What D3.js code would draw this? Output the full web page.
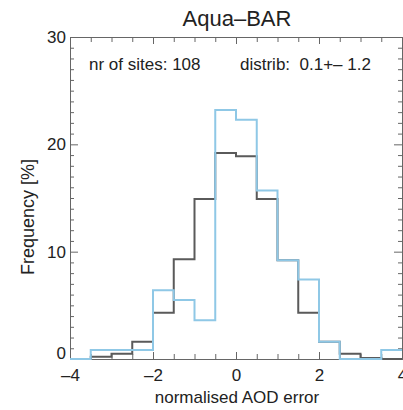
<!DOCTYPE html>
<html>
<head>
<meta charset="utf-8">
<script src="https://cdn.jsdelivr.net/npm/d3@7"></script>
<style>
  body { margin: 0; background: #fff; }
  text { font-family: "Liberation Sans", Arial, Helvetica, sans-serif; fill: #222; }
</style>
</head>
<body>
<div id="my_dataviz"></div>
<script>
// histogram bins (left edges), width 0.5
var binStart = [-4, -3.5, -3, -2.5, -2, -1.5, -1, -0.5, 0, 0.5, 1, 1.5, 2, 2.5, 3, 3.5];
var binEnd = 4;
var grayFreq = [0, 0.2, 0.5, 1.6, 4.3, 9.3, 14.9, 19.2, 18.9, 14.9, 9.2, 4.3, 1.6, 0.5, 0.1, 0];
var blueFreq = [0, 0.85, 0.85, 0.85, 6.4, 5.5, 3.6, 23.2, 22.3, 15.7, 9.2, 7.4, 1.6, 0, 0, 0.85];
var xMajor = [-4, -2, 0, 2, 4];
var xMinor = [-3.5, -3, -2.5, -1.5, -1, -0.5, 0.5, 1, 1.5, 2.5, 3, 3.5];
var yMajor = [0, 10, 20, 30];
var yMinor = [1, 2, 3, 4, 5, 6, 7, 8, 9, 11, 12, 13, 14, 15, 16, 17, 18, 19, 21, 22, 23, 24, 25, 26, 27, 28, 29];

var W = 403, H = 410;
var margin = {top: 37, right: 1, bottom: 51, left: 70},
    width = W - margin.left - margin.right,
    height = H - margin.top - margin.bottom;

var svg = d3.select("#my_dataviz")
  .append("svg")
    .attr("width", W)
    .attr("height", H)
  .append("g")
    .attr("transform", "translate(0,0) translate(" + margin.left + "," + margin.top + ")");

var x = d3.scaleLinear().domain([-4, 4]).range([0, width]);
var y = d3.scaleLinear().domain([0, 30]).range([height, 0]);

var fmt = function(d) { return String(d).replace("-", "\u2013"); };

// axes: labelled bottom/left, tick-only top/right, ticks pointing inward
function styleAxis(g) {
  g.select(".domain").attr("stroke", "#666").attr("stroke-width", 1);
  g.selectAll(".tick line").attr("stroke", "#666").attr("stroke-width", 1);
}

svg.append("g")
  .attr("transform", "translate(0," + height + ")")
  .call(d3.axisBottom(x).tickValues(xMajor).tickSize(-7).tickPadding(10).tickFormat(fmt))
  .call(styleAxis)
  .call(function(g) { g.selectAll("text").style("font-size", "17px").attr("fill", "#222"); });
svg.append("g")
  .attr("transform", "translate(0," + height + ")")
  .call(d3.axisBottom(x).tickValues(xMinor).tickSize(-5).tickFormat(""))
  .call(styleAxis);
svg.append("g")
  .call(d3.axisTop(x).tickValues(xMajor).tickSize(-7).tickFormat(""))
  .call(styleAxis);
svg.append("g")
  .call(d3.axisTop(x).tickValues(xMinor).tickSize(-5).tickFormat(""))
  .call(styleAxis);

svg.append("g")
  .call(d3.axisLeft(y).tickValues(yMajor).tickSize(-8).tickPadding(4))
  .call(styleAxis)
  .call(function(g) {
    g.selectAll("text").style("font-size", "17px").attr("fill", "#222");
    // bottom label sits a little above its tick, as in the original
    g.selectAll(".tick").filter(function(d) { return d === 0; }).select("text").attr("dy", "-0.02em");
  });
svg.append("g")
  .call(d3.axisLeft(y).tickValues(yMinor).tickSize(-4).tickFormat(""))
  .call(styleAxis);
svg.append("g")
  .attr("transform", "translate(" + width + ",0)")
  .call(d3.axisRight(y).tickValues(yMajor).tickSize(-8).tickFormat(""))
  .call(styleAxis);
svg.append("g")
  .attr("transform", "translate(" + width + ",0)")
  .call(d3.axisRight(y).tickValues(yMinor).tickSize(-4).tickFormat(""))
  .call(styleAxis);

// step histograms
function steps(vals) {
  var pts = binStart.map(function(b, i) { return [b, vals[i]]; });
  pts.push([binEnd, vals[vals.length - 1]]);
  return pts;
}
var line = d3.line()
  .x(function(d) { return x(d[0]); })
  .y(function(d) { return y(d[1]); })
  .curve(d3.curveStepAfter);

svg.append("path")
  .datum(steps(grayFreq))
  .attr("fill", "none")
  .attr("stroke", "#5a5a5a")
  .attr("stroke-width", 2)
  .attr("d", line);

svg.append("path")
  .datum(steps(blueFreq))
  .attr("fill", "none")
  .attr("stroke", "#8fc8e6")
  .attr("stroke-width", 2)
  .attr("d", line);

// texts
var root = d3.select("svg");
root.append("text")
  .attr("x", 237).attr("y", 26)
  .attr("text-anchor", "middle")
  .style("font-size", "22px")
  .text("Aqua\u2013BAR");

root.append("text")
  .attr("x", 89).attr("y", 70)
  .style("font-size", "17px")
  .text("nr of sites: 108");

root.append("text")
  .attr("x", 240).attr("y", 70)
  .style("font-size", "17px")
  .style("white-space", "pre")
  .text("distrib:  0.1+\u2013 1.2");

root.append("text")
  .attr("x", 237).attr("y", 403)
  .attr("text-anchor", "middle")
  .style("font-size", "17px")
  .text("normalised AOD error");

root.append("text")
  .attr("transform", "translate(34,217) rotate(-90)")
  .attr("text-anchor", "middle")
  .style("font-size", "18px")
  .text("Frequency [%]");
</script>
</body>
</html>
